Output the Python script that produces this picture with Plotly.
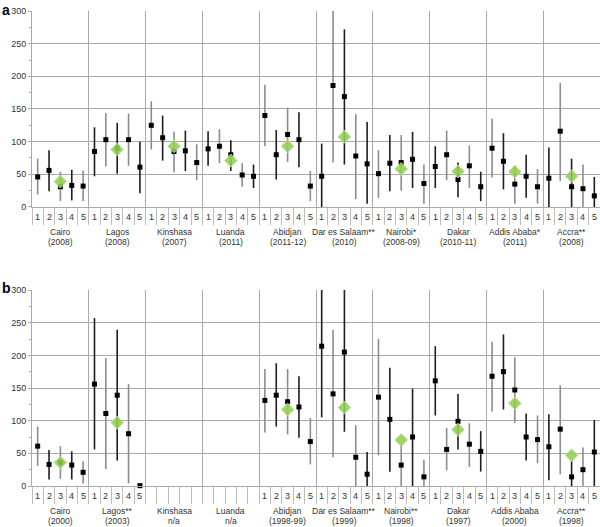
import plotly.graph_objects as go

# ---------------- data ----------------
cities_a = ["Cairo", "Lagos", "Kinshasa", "Luanda", "Abidjan", "Dar es Salaam**",
            "Nairobi*", "Dakar", "Addis Ababa*", "Accra**"]
years_a = ["(2008)", "(2008)", "(2007)", "(2011)", "(2011-12)", "(2010)",
           "(2008-09)", "(2010-11)", "(2011)", "(2008)"]
cities_b = ["Cairo", "Lagos**", "Kinshasa", "Luanda", "Abidjan", "Dar es Salaam**",
            "Nairobi**", "Dakar", "Addis Ababa", "Accra**"]
years_b = ["(2000)", "(2003)", "n/a", "n/a", "(1998-99)", "(1999)",
           "(1998)", "(1997)", "(2000)", "(1998)"]
quintiles = ["1", "2", "3", "4", "5"]

# panel a: quintile estimates, lower / upper CI, overall city value
mean_a = [[46, 56, 31, 33, 32], [85, 103, 90, 103, 61], [125, 106, 85, 86, 68],
          [89, 93, 80, 49, 47], [140, 80, 111, 103, 32], [47, 186, 169, 78, 66],
          [51, 67, 68, 73, 36], [62, 80, 42, 63, 31], [90, 70, 35, 47, 31],
          [44, 116, 31, 28, 17]]
lo_a = [[19, 24, 9, 10, 9], [47, 62, 51, 63, 21], [88, 71, 53, 55, 41],
        [63, 67, 55, 31, 29], [93, 42, 69, 61, 9], [0, 68, 65, 12, 5],
        [14, 24, 25, 29, 5], [29, 41, 15, 29, 9], [45, 27, 5, 14, 5],
        [0, 40, 0, 0, 0]]
hi_a = [[74, 87, 54, 57, 56], [122, 144, 129, 143, 100], [162, 140, 115, 117, 96],
        [116, 119, 102, 67, 65], [187, 118, 152, 145, 55], [97, 310, 272, 142, 130],
        [87, 110, 110, 115, 65], [93, 117, 68, 94, 54], [135, 113, 63, 80, 58],
        [91, 190, 74, 65, 46]]
overall_a = [39, 88, 93, 71, 93, 107.5, 58, 54.5, 54, 47]

# panel b
N = None
mean_b = [[61, 33, 36, 32, 21], [156, 111, 139, 80, 0.5], [N, N, N, N, N],
          [N, N, N, N, N], [131, 139, 129, 121, 68], [214, 141, 205, 44, 18],
          [136, 102, 32, 75, 14], [161, 56, 99, 64, 53], [168, 175, 147, 75, 71],
          [60, 87, 14, 25, 52]]
lo_b = [[31, 10, 11, 10, 4], [56, 26, 39, 4, 0.5], [N, N, N, N, N],
        [N, N, N, N, N], [82, 91, 79, 74, 33], [105, 44, 83, 0, 0],
        [47, 22, 0, 0, 0], [108, 24, 56, 29, 22], [114, 117, 97, 39, 35],
        [9, 18, 0, 0, 0]]
hi_b = [[91, 55, 61, 53, 38], [257, 196, 239, 156, 0.5], [N, N, N, N, N],
        [N, N, N, N, N], [179, 188, 179, 168, 104], [310, 239, 310, 93, 52],
        [225, 181, 64, 149, 40], [214, 89, 141, 96, 84], [221, 232, 197, 111, 108],
        [110, 154, 39, 59, 101]]
overall_b = [36, 97, N, N, 117, 120, 70.5, 86, 126.5, 47]

# ---------------- styling ----------------
FONT = "Liberation Sans Narrow, Liberation Sans, Arial, sans-serif"
GRID = "#a9a9a9"
TXT = "#333333"
GREEN = "#92d050"
nq = len(quintiles)
ng = len(cities_a)

fig = go.Figure()


def add_panel(mean, lo, hi, overall, xa, ya):
    xs, ys, plus, minus = [], [], [], []
    for g in range(ng):
        for q in range(nq):
            xs.append(g * nq + q)
            m = mean[g][q]
            ys.append(m)
            if m is None:
                plus.append(None)
                minus.append(None)
            else:
                plus.append(hi[g][q] - m)
                minus.append(m - lo[g][q])
    # error bars (two shades alternate, as in the original rendering)
    for parity, col in ((0, "#8c8c8c"), (1, "#1e1e1e")):
        idx = [i for i in range(len(xs)) if i % 2 == parity]
        fig.add_trace(go.Scatter(
            x=[xs[i] for i in idx], y=[ys[i] for i in idx], mode="markers",
            marker=dict(size=1, color="rgba(0,0,0,0)"),
            error_y=dict(type="data", symmetric=False,
                         array=[plus[i] for i in idx],
                         arrayminus=[minus[i] for i in idx],
                         color=col, thickness=1.6, width=0),
            xaxis=xa, yaxis=ya, showlegend=False, hoverinfo="skip"))
    # quintile points
    fig.add_trace(go.Scatter(
        x=xs, y=ys, mode="markers",
        marker=dict(symbol="square", size=5, color="black"),
        cliponaxis=False, xaxis=xa, yaxis=ya, showlegend=False))
    # overall city value (green diamond at centre quintile)
    fig.add_trace(go.Scatter(
        x=[g * nq + (nq - 1) / 2 for g in range(ng)], y=overall, mode="markers",
        marker=dict(symbol="diamond", size=10, color=GREEN, opacity=0.88,
                    line=dict(color="#c8e3b0", width=1)),
        cliponaxis=False, xaxis=xa, yaxis=ya, showlegend=False))


add_panel(mean_a, lo_a, hi_a, overall_a, "x", "y")
add_panel(mean_b, lo_b, hi_b, overall_b, "x2", "y2")

boundaries = [g * nq - 0.5 for g in range(ng + 1)]
halfs = [i - 0.5 for i in range(ng * nq + 1)]

xcommon = dict(
    range=[-0.5, ng * nq - 0.5], tickmode="array", tickvals=boundaries,
    ticktext=[""] * len(boundaries), ticks="outside", ticklen=41, tickwidth=1,
    tickcolor=GRID, showgrid=True, gridcolor=GRID, gridwidth=1, zeroline=False,
    showline=True, linecolor=GRID, linewidth=1,
    minor=dict(tickmode="array", tickvals=halfs, ticks="outside", ticklen=17,
               tickcolor="#bdbdbd", tickwidth=1, showgrid=False),
)
ycommon = dict(
    range=[0, 300], tickmode="array", tickvals=list(range(0, 301, 50)),
    showgrid=True, gridcolor=GRID, gridwidth=1, zeroline=False, showline=True,
    linecolor=GRID, linewidth=1, ticks="outside", ticklen=3, tickcolor=GRID,
    tickfont=dict(family=FONT, size=9, color=TXT),
    minor=dict(dtick=25, ticks="outside", ticklen=2, tickcolor=GRID, showgrid=False),
)

fig.update_layout(
    width=600, height=527, paper_bgcolor="white", plot_bgcolor="white",
    margin=dict(l=32, r=0, t=11, b=41, autoexpand=False),
    xaxis=dict(domain=[0, 1], anchor="y", **xcommon),
    yaxis=dict(domain=[0.5874, 1], anchor="x", **ycommon),
    xaxis2=dict(domain=[0, 1], anchor="y2", **xcommon),
    yaxis2=dict(domain=[0, 0.4126], anchor="x2", **ycommon),
    font=dict(family=FONT, size=9, color=TXT),
    hovermode=False,
)

annotations = []
for xr, yr, cities, years, has in (("x", "y domain", cities_a, years_a, [True] * ng),
                                   ("x2", "y2 domain", cities_b, years_b,
                                    [m[0] is not None for m in mean_b])):
    for g in range(ng):
        if has[g]:
            for q in range(nq):
                annotations.append(dict(x=g * nq + q, y=0, xref=xr, yref=yr,
                                        text=quintiles[q], showarrow=False,
                                        yshift=-10, yanchor="middle",
                                        font=dict(size=9)))
        cx = g * nq + (nq - 1) / 2
        annotations.append(dict(x=cx, y=0, xref=xr, yref=yr, text=cities[g],
                                showarrow=False, yshift=-25, yanchor="middle",
                                font=dict(size=8.5)))
        annotations.append(dict(x=cx, y=0, xref=xr, yref=yr, text=years[g],
                                showarrow=False, yshift=-35, yanchor="middle",
                                font=dict(size=8.5)))

fig.update_layout(annotations=annotations)
fig.add_annotation(xref="paper", yref="paper", x=0, y=1, xshift=-32, yshift=11,
                   xanchor="left", yanchor="top", text="<b>a</b>", showarrow=False,
                   font=dict(family="Liberation Sans, Arial", size=14, color="black"))
fig.add_annotation(xref="paper", yref="paper", x=0, y=0.4126, xshift=-32, yshift=12,
                   xanchor="left", yanchor="top", text="<b>b</b>", showarrow=False,
                   font=dict(family="Liberation Sans, Arial", size=14, color="black"))

fig.write_html("out.html", config={"displayModeBar": False},
               post_script="document.body.style.margin='0';"
                           "document.body.style.overflow='hidden';")
